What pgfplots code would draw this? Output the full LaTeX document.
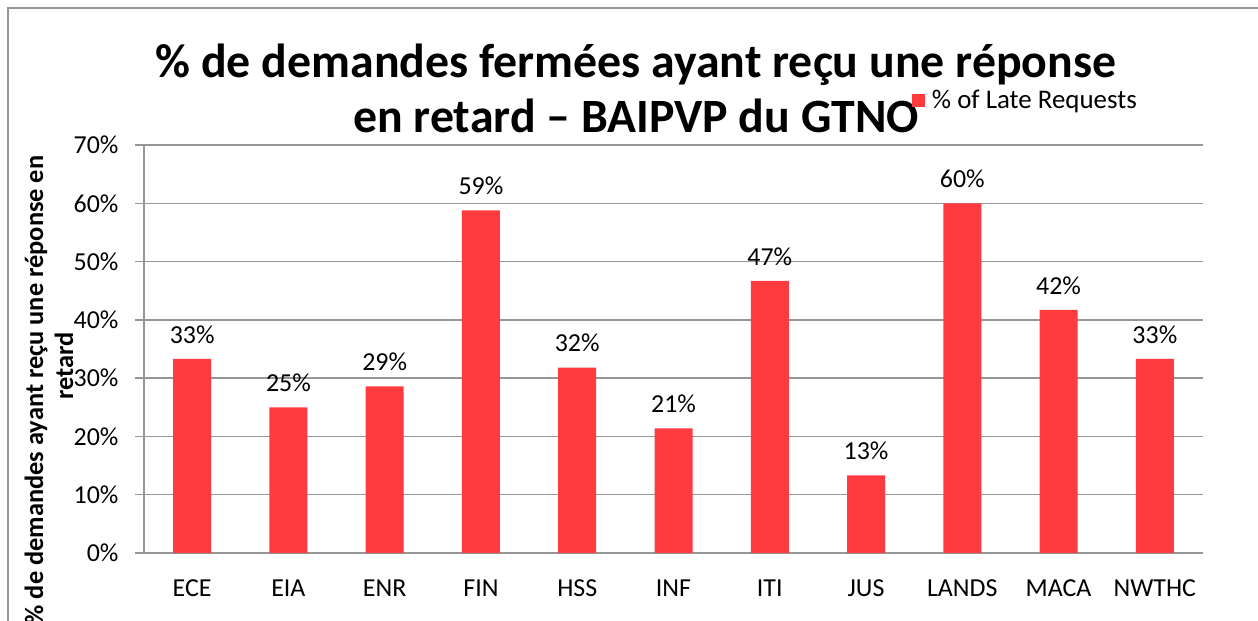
\documentclass[border=0pt]{standalone}
\usepackage{pgfplots}
\pgfplotsset{compat=1.18}
\usepackage{fontspec}
\setmainfont{Carlito}
\definecolor{barred}{RGB}{255,59,63}
\definecolor{gridgray}{RGB}{150,150,150}

\pgfplotstableread{
idx val
0 33.3
1 25.0
2 28.6
3 58.8
4 31.8
5 21.4
6 46.7
7 13.3
8 60.0
9 41.7
10 33.3
}\latedata

\begin{document}
\begin{tikzpicture}[x=1bp,y=1bp]
\useasboundingbox (0,0) rectangle (1258,621);
\clip (0,0) rectangle (1258,621);
% chart frame (only top and left edges are visible)
\draw[gridgray, line width=1.5bp] (8,-30) -- (8,613) -- (1290,613);

% title
\node[anchor=base, font=\fontsize{48}{56}\selectfont\bfseries] at (636,543)
  {\% de demandes fermées ayant reçu une réponse};
\node[anchor=base, font=\fontsize{48}{56}\selectfont\bfseries] at (636,488)
  {en retard – BAIPVP du GTNO};

% y label, two lines
\node[rotate=90, font=\fontsize{26.5}{31}\selectfont\bfseries] at (36,231)
  {\% de demandes ayant reçu une réponse en};
\node[rotate=90, font=\fontsize{26.5}{31}\selectfont\bfseries] at (64,255)
  {retard};

\begin{axis}[
  at={(144bp,68bp)}, anchor=south west,
  scale only axis, width=1059bp, height=408bp,
  xmin=-0.5, xmax=10.5, ymin=0, ymax=70,
  ybar, bar width=38bp,
  xtick=data,
  xticklabels={ECE,EIA,ENR,FIN,HSS,INF,ITI,JUS,LANDS,MACA,NWTHC},
  x tick style={draw=none},
  ytick={0,10,...,70},
  yticklabel={\pgfmathprintnumber{\tick}\%},
  /pgf/number format/assume math mode=true,
  ymajorgrids,
  grid style={gridgray, line width=1.5bp},
  axis x line*=bottom, axis y line*=left,
  axis line style={gridgray, line width=1.5bp},
  y tick style={gridgray, line width=1.5bp},
  ytick align=outside, major tick length=9bp,
  tick label style={font=\fontsize{26}{31}\selectfont},
  xticklabel style={yshift=-14bp},
  yticklabel style={xshift=-13bp},
  nodes near coords={\pgfmathprintnumber[fixed,precision=0]{\pgfplotspointmeta}\%},
  nodes near coords style={font=\fontsize{26}{31}\selectfont, yshift=12bp},
  legend style={at={(0.725,1.11)}, anchor=west, draw=none, fill=none,
    font=\fontsize{27}{32}\selectfont, inner sep=0pt,
    nodes={inner xsep=7bp}},
  clip=false,
]
\addplot[fill=barred, draw=none,
  legend image code/.code={\fill[barred] (0bp,-6.5bp) rectangle (13bp,6.5bp);}]
  table[x=idx, y=val] {\latedata};
\addlegendentry{\% of Late Requests}
\end{axis}
\end{tikzpicture}
\end{document}
